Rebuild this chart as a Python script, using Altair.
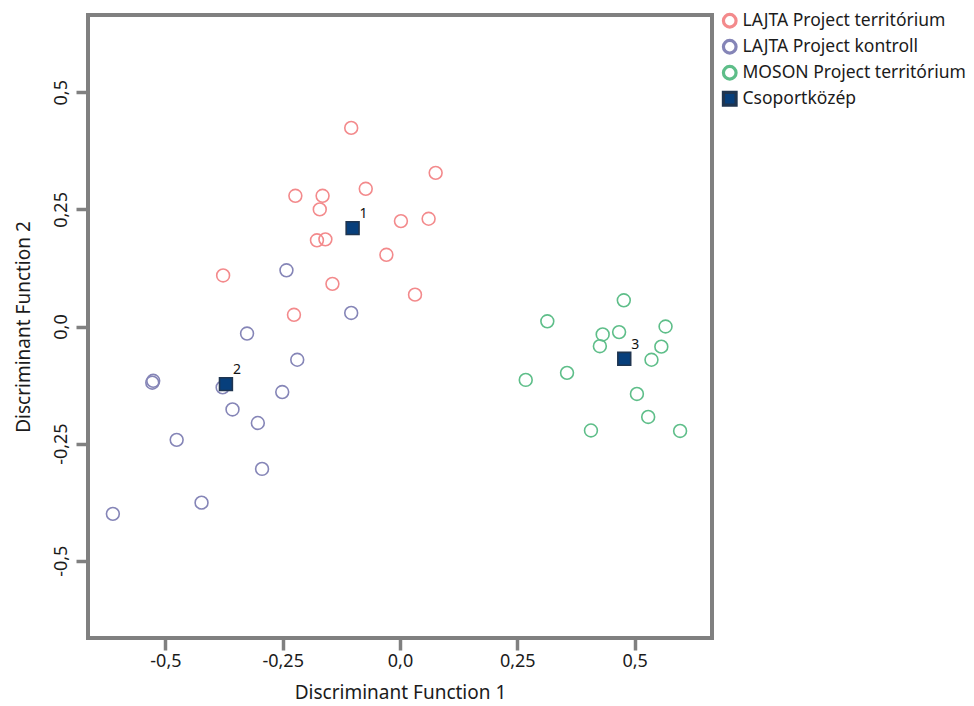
import altair as alt
import pandas as pd

groups = ["LAJTA Project territórium", "LAJTA Project kontroll",
          "MOSON Project territórium", "Csoportközép"]

lajta_terr_x = [-0.104, 0.076, -0.073, -0.223, -0.165, -0.171, 0.002, 0.061,
                -0.177, -0.159, -0.029, -0.377, -0.144, 0.032, -0.226]
lajta_terr_y = [0.424, 0.328, 0.294, 0.279, 0.279, 0.250, 0.225, 0.230,
                0.184, 0.186, 0.153, 0.109, 0.091, 0.068, 0.025]

lajta_kontr_x = [-0.242, -0.104, -0.326, -0.219, -0.526, -0.528, -0.378,
                 -0.251, -0.357, -0.303, -0.476, -0.294, -0.423, -0.612]
lajta_kontr_y = [0.120, 0.029, -0.015, -0.071, -0.116, -0.120, -0.130,
                 -0.140, -0.177, -0.206, -0.242, -0.304, -0.376, -0.400]

moson_terr_x = [0.477, 0.314, 0.566, 0.432, 0.467, 0.426, 0.557, 0.536,
                0.268, 0.356, 0.505, 0.529, 0.407, 0.597]
moson_terr_y = [0.056, 0.011, 0.000, -0.017, -0.012, -0.042, -0.043, -0.071,
                -0.114, -0.099, -0.144, -0.193, -0.222, -0.223]

centroid_x = [-0.101, -0.371, 0.478]
centroid_y = [0.210, -0.123, -0.069]
centroid_labels = ["1", "2", "3"]

tick_values = [-0.5, -0.25, 0.0, 0.25, 0.5]

rows = []
for gx, gy, g in [(lajta_terr_x, lajta_terr_y, groups[0]),
                  (lajta_kontr_x, lajta_kontr_y, groups[1]),
                  (moson_terr_x, moson_terr_y, groups[2]),
                  (centroid_x, centroid_y, groups[3])]:
    for x, y in zip(gx, gy):
        rows.append({"f1": x, "f2": y, "group": g})
df = pd.DataFrame(rows)
df_c = pd.DataFrame({"f1": centroid_x, "f2": centroid_y, "lab": centroid_labels})

FONT = "Noto Sans"
TXT = "#1b1b1b"
lab_expr = "datum.value == 0 ? '0,0' : replace(toString(datum.value), '.', ',')"
dom = [-0.665, 0.665]

xenc = alt.X("f1:Q", scale=alt.Scale(domain=dom, nice=False, zero=False),
             axis=alt.Axis(values=tick_values, labelExpr=lab_expr,
                           title="Discriminant Function 1",
                           labelPadding=2, titlePadding=13))
yenc = alt.Y("f2:Q", scale=alt.Scale(domain=dom, nice=False, zero=False),
             axis=alt.Axis(values=tick_values, labelExpr=lab_expr,
                           title="Discriminant Function 2",
                           labelAngle=-90, labelAlign="center",
                           labelBaseline="bottom", labelPadding=6,
                           titlePadding=19))

stroke_cols = ["#f38a8c", "#8585b7", "#5ebe89", "#1f3550"]
fill_cols = ["rgba(255,255,255,0)", "rgba(255,255,255,0)",
             "rgba(255,255,255,0)", "#073f7c"]
shapes = ["circle", "circle", "circle", "square"]

leg = alt.Legend(title=None, orient="none", legendX=633, legendY=-3,
                 labelFont=FONT, labelFontSize=17.5, labelColor=TXT,
                 symbolSize=160, symbolStrokeWidth=3.2, rowPadding=0,
                 labelLimit=300, labelOffset=4)

points = alt.Chart(df).mark_point(strokeWidth=1.6, size=165, opacity=1).encode(
    x=xenc, y=yenc,
    stroke=alt.Stroke("group:N", scale=alt.Scale(domain=groups, range=stroke_cols), legend=leg),
    fill=alt.Fill("group:N", scale=alt.Scale(domain=groups, range=fill_cols), legend=leg),
    shape=alt.Shape("group:N", scale=alt.Scale(domain=groups, range=shapes), legend=leg),
)

labels = alt.Chart(df_c).mark_text(dx=11, dy=-14, fontSize=14, font=FONT,
                                   color="#111111").encode(
    x="f1:Q", y="f2:Q", text="lab:N")

chart = alt.layer(points, labels).properties(
    width=624, height=623,
    autosize=alt.AutoSizeParams(type="none"),
    padding={"left": 88, "top": 15, "right": 262, "bottom": 68},
).configure_view(
    stroke="#808080", strokeWidth=4
).configure_axis(
    domain=False, grid=False, tickColor="#808080", tickWidth=3.5, tickSize=12,
    labelFont=FONT, labelFontSize=18, labelColor=TXT,
    titleFont=FONT, titleFontSize=19, titleColor=TXT,
    titleFontWeight="normal"
)

chart.save("out.html", embed_options={"renderer": "svg", "actions": False})
